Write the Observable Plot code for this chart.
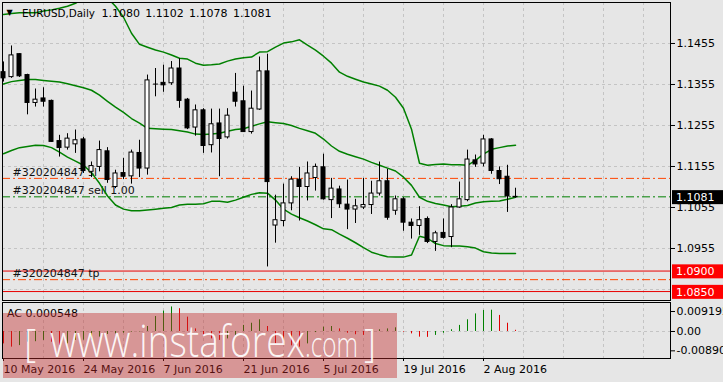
<!DOCTYPE html>
<html><head><meta charset="utf-8">
<script src="https://cdn.jsdelivr.net/npm/d3@7"></script>
<script src="https://cdn.jsdelivr.net/npm/@observablehq/plot@0.6"></script>
<style>
html,body{margin:0;padding:0;background:#e6e6e6;}
#chart{position:relative;width:723px;height:382px;background:#e6e6e6;overflow:hidden;}
#chart svg{position:absolute;left:0;top:0;}
</style></head><body><div id="chart"></div>
<script>
// ---------- data ----------
const symbolTitle = "EURUSD,Daily";
const lastOHLC = ["1.1080", "1.1102", "1.1078", "1.1081"];
const candleOpen = [1.1385,1.1373,1.1429,1.1378,1.1310,1.1321,1.1315,1.1217,1.1201,1.1209,
  1.1221,1.1142,1.1154,1.1192,1.1105,1.1139,1.1131,1.1188,1.1150,1.1356,
  1.1359,1.1358,1.1394,1.1318,1.1250,1.1292,1.1207,1.1260,1.1226,1.1335,
  1.1314,1.1239,1.1294,1.1387,1.1011,1.1022,1.1065,1.1123,1.1105,1.1127,
  1.1153,1.1073,1.1099,1.1062,1.1050,1.1055,1.1061,1.1089,1.1119,1.1047,
  1.1075,1.1018,1.1010,1.1027,1.0971,1.0993,1.0983,1.1055,1.1073,1.1170,
  1.1162,1.1221,1.1144,1.1130,1.1080];
const candleHigh = [1.1410,1.1449,1.1430,1.1380,1.1344,1.1347,1.1317,1.1231,1.1235,1.1244,
  1.1226,1.1166,1.1217,1.1201,1.1146,1.1175,1.1195,1.1219,1.1378,1.1394,
  1.1402,1.1411,1.1418,1.1321,1.1305,1.1296,1.1295,1.1295,1.1296,1.1382,
  1.1351,1.1339,1.1422,1.1429,1.1085,1.1112,1.1130,1.1153,1.1166,1.1161,
  1.1185,1.1126,1.1107,1.1122,1.1075,1.1126,1.1119,1.1166,1.1148,1.1083,
  1.1079,1.1027,1.1057,1.1032,1.0997,1.1027,1.1062,1.1117,1.1195,1.1183,
  1.1231,1.1223,1.1154,1.1158,1.1102];
const candleLow = [1.1361,1.1370,1.1372,1.1281,1.1300,1.1300,1.1214,1.1178,1.1195,1.1187,
  1.1138,1.1128,1.1142,1.1114,1.1101,1.1123,1.1112,1.1128,1.1134,1.1325,
  1.1336,1.1353,1.1297,1.1245,1.1229,1.1187,1.1188,1.1130,1.1222,1.1300,
  1.1239,1.1234,1.1292,1.0910,1.0968,1.1008,1.1047,1.1022,1.1071,1.1095,
  1.1073,1.1028,1.1053,1.1001,1.1016,1.1050,1.1038,1.1083,1.1024,1.1036,
  1.0997,1.0978,1.0987,1.0967,1.0948,1.0978,1.0957,1.1053,1.1069,1.1153,
  1.1154,1.1136,1.1111,1.1043,1.1078];
const candleClose = [1.1370,1.1426,1.1375,1.1310,1.1318,1.1313,1.1215,1.1200,1.1223,1.1219,
  1.1144,1.1156,1.1195,1.1122,1.1138,1.1130,1.1189,1.1150,1.1365,1.1356,
  1.1353,1.1394,1.1315,1.1248,1.1292,1.1205,1.1258,1.1222,1.1279,1.1313,
  1.1239,1.1296,1.1387,1.1117,1.1024,1.1065,1.1123,1.1105,1.1138,1.1154,
  1.1075,1.1101,1.1063,1.1050,1.1058,1.1061,1.1089,1.1119,1.1030,1.1075,
  1.1018,1.1010,1.1024,1.0971,1.0992,1.0981,1.1055,1.1075,1.1172,1.1160,
  1.1221,1.1144,1.1124,1.1082,1.1081];
const bbUpper = [1.1526,1.1528,1.1530,1.1530,1.1530,1.1534,1.1537,1.1541,1.1546,1.1553,
  1.1566,1.1573,1.1575,1.1566,1.1546,1.1519,1.1480,1.1453,1.1446,1.1439,
  1.1434,1.1427,1.1419,1.1417,1.1407,1.1402,1.1403,1.1405,1.1412,1.1417,
  1.1420,1.1422,1.1434,1.1435,1.1446,1.1456,1.1459,1.1464,1.1451,1.1439,
  1.1424,1.1407,1.1385,1.1375,1.1368,1.1361,1.1356,1.1351,1.1341,1.1324,
  1.1297,1.1246,1.1163,1.1158,1.1160,1.1161,1.1159,1.1159,1.1158,1.1170,
  1.1185,1.1197,1.1201,1.1205,1.1207];
const bbMiddle = [1.1356,1.1362,1.1365,1.1367,1.1367,1.1365,1.1363,1.1361,1.1357,1.1352,
  1.1347,1.1341,1.1329,1.1314,1.1300,1.1287,1.1272,1.1261,1.1248,1.1247,
  1.1246,1.1245,1.1242,1.1239,1.1234,1.1233,1.1234,1.1236,1.1241,1.1245,
  1.1247,1.1253,1.1259,1.1264,1.1262,1.1260,1.1255,1.1248,1.1242,1.1236,
  1.1222,1.1205,1.1192,1.1185,1.1179,1.1173,1.1165,1.1158,1.1151,1.1144,
  1.1129,1.1109,1.1080,1.1070,1.1065,1.1061,1.1057,1.1058,1.1060,1.1066,
  1.1069,1.1070,1.1071,1.1075,1.1080];
const bbLower = [1.1186,1.1194,1.1201,1.1204,1.1207,1.1206,1.1201,1.1190,1.1178,1.1168,
  1.1158,1.1140,1.1114,1.1083,1.1061,1.1051,1.1047,1.1047,1.1049,1.1051,
  1.1053,1.1055,1.1061,1.1063,1.1063,1.1064,1.1070,1.1070,1.1068,1.1073,
  1.1080,1.1087,1.1091,1.1090,1.1073,1.1051,1.1039,1.1030,1.1022,1.1013,
  1.1003,1.1001,1.0990,1.0980,1.0969,1.0957,1.0946,1.0940,1.0935,1.0934,
  1.0934,1.0939,1.0985,1.0980,1.0967,1.0962,1.0961,1.0961,1.0959,1.0956,
  1.0947,1.0944,1.0943,1.0943,1.0943];
const acValues = [-0.0057,-0.0072,-0.0065,-0.0049,-0.0047,-0.0041,-0.0049,-0.0064,-0.0057,-0.0041,
  -0.0040,-0.0039,-0.0026,-0.0014,-0.0011,-0.0008,-0.0003,-0.0002,0.0023,0.0069,
  0.0094,0.0113,0.0105,0.0066,0.0012,-0.0018,-0.0034,-0.0041,-0.0034,-0.0018,
  0.0028,0.0038,0.0054,0.0023,-0.0057,-0.0064,-0.0066,-0.0072,-0.0057,-0.0005,
  0.0020,0.0023,0.0012,-0.0008,-0.0015,-0.0018,0.0005,0.0008,0.0012,0.0017,
  -0.0003,-0.0011,-0.0026,-0.0027,-0.0018,-0.0008,0.0008,0.0028,0.0054,0.0081,
  0.0097,0.0098,0.0074,0.0038,0.00055];
const acLabel = "AC 0.000548";
const dateTickIndex = [0, 10, 20, 30, 40, 50, 60];
const dateTickLabels = ["10 May 2016", "24 May 2016", "7 Jun 2016", "21 Jun 2016", "5 Jul 2016", "19 Jul 2016", "2 Aug 2016"];
const gridIndex = [5,10,15,20,25,30,35,40,45,50,55,60,65,70,75,80];
const priceGrid = [1.1455, 1.1355, 1.1255, 1.1155, 1.1055, 1.0955, 1.0855];
const priceTicks = [1.1455, 1.1355, 1.1255, 1.1155, 1.1055, 1.0955];
const acTicks = [0.009195, 0, -0.0089];
const acTickLabels = ["0.009195", "0.00", "-0.00890"];
const orderId = "#320204847";
const orderTexts = ["sl", "sell 1.00", "tp"];
const stopLoss = 1.1126, sellPrice = 1.1081, takeProfit = 1.0879;
const levelLines = [1.0900, 1.0850];
const bidPrice = 1.1081;
const watermarkParts = ["[", "www.instaforex", ".com", "]"];

// ---------- layout ----------
const W = 723, H = 382;
const xDomain = [-0.125, 83.375];
const priceDomain = [1.082817, 1.1555];
const acDomain = [-0.01243, 0.01335];
const FONT = "'DejaVu Sans', sans-serif";
const GRID = "#c4c4c4";
const DASHDOT = "8,3,2,3";

const candles = candleOpen.map((o, i) => ({i, o, h: candleHigh[i], l: candleLow[i], c: candleClose[i]}));
const bands = bbUpper.map((u, i) => ({i, u, m: bbMiddle[i], lo: bbLower[i]}));
const acData = acValues.map((v, i) => ({i, v, color: i === 0 || v < acValues[i - 1] ? "#e00000" : "#008000"}));
const orderLabels = [
  {y: stopLoss, t: orderId + " " + orderTexts[0]},
  {y: sellPrice, t: orderId + " " + orderTexts[1]},
  {y: takeProfit, t: orderId + " " + orderTexts[2]}
];
const style = {background: "transparent", fontFamily: FONT, fontSize: "11px", color: "black", overflow: "visible"};

const main = Plot.plot({
  width: W, height: 303,
  marginLeft: 2, marginRight: W - 670, marginTop: 2, marginBottom: 3,
  style,
  x: {domain: xDomain, axis: null, label: null},
  y: {domain: priceDomain, axis: null, label: null},
  marks: [
    Plot.ruleY(priceGrid, {stroke: GRID, strokeDasharray: "3,3"}),
    Plot.ruleX(gridIndex, {stroke: GRID, strokeDasharray: "3,3"}),
    Plot.ruleY(levelLines, {stroke: "#e80000"}),
    Plot.ruleY([stopLoss, takeProfit], {stroke: "#ff4500", strokeDasharray: DASHDOT}),
    Plot.ruleY([sellPrice], {stroke: "#008000", strokeDasharray: DASHDOT}),
    Plot.text(orderLabels, {y: "y", text: "t", frameAnchor: "left", dx: 10, dy: -6, textAnchor: "start", fill: "#111"}),
    Plot.line(bands, {x: "i", y: "u", stroke: "#008000", clip: true}),
    Plot.line(bands, {x: "i", y: "m", stroke: "#008000", clip: true}),
    Plot.line(bands, {x: "i", y: "lo", stroke: "#008000", clip: true}),
    Plot.ruleX(candles, {x: "i", y1: "l", y2: "h", stroke: "black"}),
    Plot.rect(candles.filter(d => d.o !== d.c), {x1: d => d.i - 0.25, x2: d => d.i + 0.25, y1: "o", y2: "c",
      fill: d => d.c > d.o ? "white" : "black", stroke: "black"}),
    Plot.link(candles.filter(d => d.o === d.c), {x1: d => d.i - 0.3, x2: d => d.i + 0.3, y1: "o", y2: "c", stroke: "black"}),
    Plot.axisY({anchor: "right", ticks: priceTicks, tickFormat: d => d.toFixed(4), tickSize: 4, tickPadding: 2, label: null}),
    Plot.frame({stroke: "black"})
  ]
});

const sub = Plot.plot({
  width: W, height: H,
  marginLeft: 2, marginRight: W - 670, marginTop: 302, marginBottom: H - 358,
  style,
  x: {domain: xDomain, axis: null, label: null},
  y: {domain: acDomain, axis: null, label: null},
  marks: [
    Plot.ruleX(gridIndex, {stroke: GRID, strokeDasharray: "3,3"}),
    Plot.ruleY([0], {stroke: GRID, strokeDasharray: "3,3"}),
    Plot.ruleX(acData, {x: "i", y1: 0, y2: "v", stroke: "color"}),
    Plot.axisY({anchor: "right", ticks: acTicks, tickFormat: d => acTickLabels[acTicks.indexOf(d)], tickSize: 4, tickPadding: 2, label: null}),
    Plot.axisX({anchor: "bottom", ticks: dateTickIndex, tickFormat: d => dateTickLabels[dateTickIndex.indexOf(d)],
      tickSize: 3, tickPadding: 4, textAnchor: "start", label: null}),
    Plot.frame({stroke: "black"})
  ]
});

const chart = document.getElementById("chart");
chart.appendChild(main);
chart.appendChild(sub);

// ---------- overlay: title, price boxes, watermark ----------
const yMain = main.scale("y");
const ov = d3.select(chart).append("svg")
  .attr("width", W).attr("height", H)
  .style("font-family", FONT).style("font-size", "11px");

ov.append("text").attr("x", 6.5).attr("y", 15).attr("font-size", 8).text("▼");
const title = ov.append("text").attr("y", 16.5).attr("fill", "#000");
title.append("tspan").attr("x", 22).attr("textLength", 73).attr("lengthAdjust", "spacingAndGlyphs").text(symbolTitle);
lastOHLC.forEach((s, k) => title.append("tspan").attr("x", 101.5 + k * 43.8).text(s));

ov.append("text").attr("x", 7).attr("y", 317).attr("fill", "#000").text(acLabel);

const boxes = [
  {v: bidPrice, fill: "#000"},
  {v: levelLines[0], fill: "#ff0000"},
  {v: levelLines[1], fill: "#ff0000"}
];
boxes.forEach(b => {
  const cy = yMain.apply(b.v) + 0.8;
  ov.append("rect").attr("x", 672).attr("y", cy - 7).attr("width", 52).attr("height", 14).attr("fill", b.fill);
  ov.append("text").attr("x", 676).attr("y", cy + 4).attr("fill", "#fff").text(b.v.toFixed(4));
});

const wm = ov.append("g");
wm.append("rect").attr("x", 3).attr("y", 313).attr("width", 394).attr("height", 65).attr("fill", "rgba(196,40,40,0.42)");
const wmText = (x, size, str, len) => {
  const t = wm.append("text").attr("x", x).attr("y", 357).attr("fill", "rgba(255,255,255,0.92)")
    .style("font-family", "'Open Sans', Lato, sans-serif").style("font-weight", 300).attr("font-size", size).text(str);
  if (len) t.attr("textLength", len).attr("lengthAdjust", "spacingAndGlyphs");
};
wmText(24, 38, watermarkParts[0]);
wmText(50, 44, watermarkParts[1], 255);
wmText(305, 34, watermarkParts[2], 53);
wmText(364, 38, watermarkParts[3]);
</script></body></html>
